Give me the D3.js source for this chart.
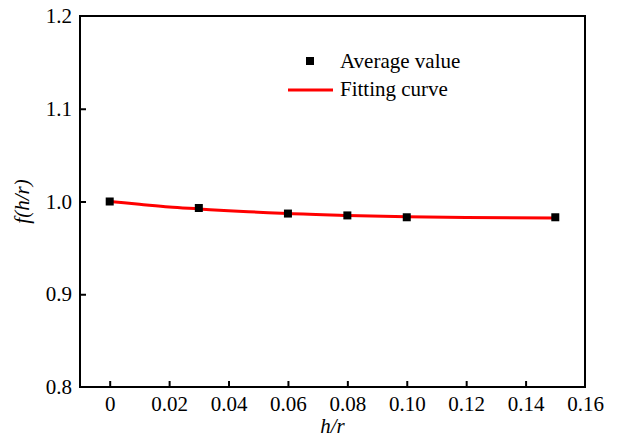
<!DOCTYPE html>
<html lang="en">
<head>
  <meta charset="UTF-8">
  <title>f(h/r)</title>
  <script src="https://d3js.org/d3.v7.min.js"></script>
  <style>
    body { margin: 0; background: #fff; }
    text { font-family: "Liberation Serif", "DejaVu Serif", serif; fill: #000; }
  </style>
</head>
<body>
  <svg id="chart" width="621" height="439"></svg>

  <script>
    // Measured points
    const hr = [0, 0.03, 0.06, 0.08, 0.10, 0.15];
    const avg = [1.000, 0.993, 0.987, 0.985, 0.983, 0.983];

    // Fitting curve
    const fitX = [0, 0.01, 0.02, 0.03, 0.04, 0.05, 0.06, 0.08, 0.10, 0.12, 0.15];
    const fitY = [1.000, 0.997, 0.994, 0.992, 0.990, 0.9885, 0.987, 0.985, 0.9835, 0.9828, 0.9822];

    const xTicks = [0, 0.02, 0.04, 0.06, 0.08, 0.10, 0.12, 0.14, 0.16];
    const xTickLabels = ["0", "0.02", "0.04", "0.06", "0.08", "0.10", "0.12", "0.14", "0.16"];
    const yTicks = [0.8, 0.9, 1.0, 1.1, 1.2];

    const margin = { top: 16, right: 36, bottom: 52, left: 80 };
    const width = 621, height = 439;
    const fs = "21px";

    const svg = d3.select("#chart");

    const x = d3.scaleLinear()
      .domain([-0.01, 0.16])
      .range([margin.left, width - margin.right]);

    const y = d3.scaleLinear()
      .domain([0.8, 1.2])
      .range([height - margin.bottom, margin.top]);

    // frame
    svg.append("rect")
      .attr("x", x(-0.01))
      .attr("y", y(1.2))
      .attr("width", x(0.16) - x(-0.01))
      .attr("height", y(0.8) - y(1.2))
      .attr("fill", "none")
      .attr("stroke", "#000")
      .attr("stroke-width", 2);

    // x axis (ticks inward)
    const xAxis = svg.append("g")
      .attr("transform", `translate(0,${y(0.8)})`)
      .call(d3.axisBottom(x)
        .tickValues(xTicks)
        .tickFormat((d, i) => xTickLabels[i])
        .tickSizeInner(-6)
        .tickSizeOuter(0)
        .tickPadding(9));
    xAxis.select(".domain").remove();
    xAxis.selectAll(".tick line").attr("stroke-width", 2);
    xAxis.selectAll(".tick").filter(d => d === 0.16).select("line").remove();
    xAxis.selectAll("text").style("font-size", fs);

    // y axis (ticks inward)
    const yAxis = svg.append("g")
      .attr("transform", `translate(${x(-0.01)},0)`)
      .call(d3.axisLeft(y)
        .tickValues(yTicks)
        .tickFormat(d3.format(".1f"))
        .tickSizeInner(-6)
        .tickSizeOuter(0)
        .tickPadding(8));
    yAxis.select(".domain").remove();
    yAxis.selectAll(".tick line").attr("stroke-width", 2);
    yAxis.selectAll(".tick").filter(d => d === 0.8 || d === 1.2).select("line").remove();
    yAxis.selectAll("text").style("font-size", fs);

    // fitting curve
    const line = d3.line()
      .x((d, i) => x(fitX[i]))
      .y(d => y(d))
      .curve(d3.curveMonotoneX);

    svg.append("path")
      .datum(fitY)
      .attr("d", line)
      .attr("fill", "none")
      .attr("stroke", "#ff0000")
      .attr("stroke-width", 3);

    // markers
    const ms = 8;
    svg.selectAll("rect.pt")
      .data(avg)
      .enter().append("rect")
      .attr("class", "pt")
      .attr("x", (d, i) => x(hr[i]) - ms / 2)
      .attr("y", d => y(d) - ms / 2)
      .attr("width", ms)
      .attr("height", ms)
      .attr("fill", "#000");

    // legend
    const lg = svg.append("g");
    lg.append("rect")
      .attr("x", 306).attr("y", 57)
      .attr("width", 8).attr("height", 8)
      .attr("fill", "#000");
    lg.append("text")
      .attr("x", 340).attr("y", 61)
      .attr("dy", "0.35em")
      .style("font-size", fs)
      .text("Average value");
    lg.append("line")
      .attr("x1", 288).attr("x2", 333)
      .attr("y1", 90).attr("y2", 90)
      .attr("stroke", "#ff0000")
      .attr("stroke-width", 3);
    lg.append("text")
      .attr("x", 340).attr("y", 89)
      .attr("dy", "0.35em")
      .style("font-size", fs)
      .text("Fitting curve");

    // axis titles
    svg.append("text")
      .attr("x", (x(-0.01) + x(0.16)) / 2)
      .attr("y", 433)
      .style("text-anchor", "middle")
      .style("font-size", fs)
      .style("font-style", "italic")
      .text("h/r");

    svg.append("text")
      .attr("transform", `translate(29,${y(1.0)}) rotate(-90)`)
      .style("text-anchor", "middle")
      .style("font-size", fs)
      .style("font-style", "italic")
      .text("f(h/r)");
  </script>
</body>
</html>
